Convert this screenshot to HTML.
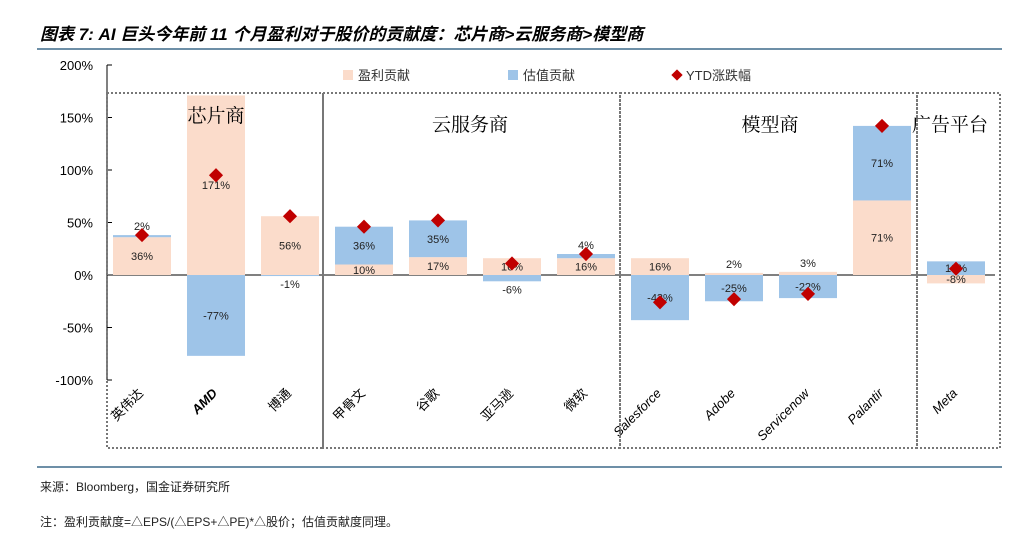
<!DOCTYPE html>
<html><head><meta charset="utf-8"><style>
body{margin:0;background:#fff;}
svg{display:block;font-family:"Liberation Sans","Noto Sans CJK SC",sans-serif;}
</style></head><body>
<svg id="chart" width="1024" height="534" viewBox="0 0 1024 534">
<text x="40" y="40" font-size="17" font-weight="bold" font-style="italic" fill="#000" font-family="'Liberation Sans','Noto Sans CJK SC',sans-serif">图表 7: AI 巨头今年前 11 个月盈利对于股价的贡献度：芯片商&gt;云服务商&gt;模型商</text>
<line x1="37" y1="49" x2="1002" y2="49" stroke="#3d6a8a" stroke-width="1.5"/>
<line x1="37" y1="467" x2="1002" y2="467" stroke="#3d6a8a" stroke-width="1.5"/>
<text x="40" y="491" font-size="12" fill="#222">来源：Bloomberg，国金证券研究所</text>
<text x="40" y="526" font-size="12" fill="#222">注：盈利贡献度=△EPS/(△EPS+△PE)*△股价；估值贡献度同理。</text>
<g id="plot"></g>
</svg>
<script>
const categories=["英伟达","AMD","博通","甲骨文","谷歌","亚马逊","微软","Salesforce","Adobe","Servicenow","Palantir","Meta"];
const profit=[36,171,56,10,17,16,16,16,2,3,71,-8];
const valuation=[2,-77,-1,36,35,-6,4,-43,-25,-22,71,13];
const ytd=[38,95,56,46,52,11,20,-26,-23,-18,142,6];
const yTicks=[200,150,100,50,0,-50,-100];
const groups=["芯片商","云服务商","模型商","广告平台"];
const NS="http://www.w3.org/2000/svg";
const g=document.getElementById('plot');
const x0=107,slot=74,bw=58;
const y=v=>275-v*1.05;
const cx=i=>x0+slot*i+35;
function mk(t,a,p){const e=document.createElementNS(NS,t);for(const k in a)e.setAttribute(k,a[k]);(p||g).appendChild(e);return e;}
let ax=mk('line',{x1:x0,y1:y(200),x2:x0,y2:y(-100),stroke:'#000','stroke-width':1});


yTicks.forEach(v=>{
 let tl=mk('line',{x1:x0,y1:y(v),x2:x0+5,y2:y(v),stroke:'#000'});
 
 
 let t=mk('text',{x:93,y:y(v)+5,'text-anchor':'end','font-size':13,fill:'#000'});
 t.textContent=v+'%';
 
 
});
let zl=mk('line',{x1:x0,y1:y(0),x2:995,y2:y(0),stroke:'#000'});


function seg(i,base,v,color,name){
 const a=y(base),b=y(base+v);
 const r=mk('rect',{x:cx(i)-bw/2,y:Math.min(a,b),width:bw,height:Math.abs(a-b),fill:color});
 
 
 return (a+b)/2;
}
categories.forEach((c,i)=>{
 const pb=0; const vb=(profit[i]>=0&&valuation[i]>=0)?profit[i]:((profit[i]<0&&valuation[i]<0)?profit[i]:0);
 const pm=seg(i,pb,profit[i],'#fbdccb','bar-profit-'+i);
 const vm=seg(i,vb,valuation[i],'#9ec4e8','bar-valuation-'+i);
 let pl=mk('text',{x:cx(i),y:Math.abs(profit[i])<6?(profit[i]>=0?y(profit[i])-5:y(profit[i])+12):pm+4,'text-anchor':'middle','font-size':11,fill:'#222'});
 pl.textContent=profit[i]+'%';
 
 
 let vend=vb+valuation[i];
 let vl=mk('text',{x:cx(i),y:Math.abs(valuation[i])<7?(valuation[i]>=0?y(vend)-5:y(vend)+12):vm+4,'text-anchor':'middle','font-size':11,fill:'#222'});
 vl.textContent=valuation[i]+'%';
 
 
 const d=mk('rect',{x:cx(i)-5,y:y(ytd[i])-5,width:10,height:10,fill:'#c00000',transform:`rotate(45 ${cx(i)} ${y(ytd[i])})`});
 
 
 const lx=cx(i)+2,ly=394;
 const t=mk('text',{x:lx,y:ly,'text-anchor':'end','font-size':13,fill:'#000',transform:`rotate(-45 ${lx} ${ly})`,'font-weight':c==='AMD'?'bold':'normal','font-style':/[A-Za-z]/.test(c)?'italic':'normal'});
 t.textContent=c;
 
 
});
const bounds=[[107,323],[323,620],[620,917],[917,1000]];
const glab=[[216,122],[470,131],[770,131],[950,131]];
bounds.forEach((b,k)=>{
 const r=mk('rect',{x:b[0],y:93,width:b[1]-b[0],height:355,fill:'none',stroke:'#777','stroke-width':2,'stroke-dasharray':'2 2'});
 
 
 const t=mk('text',{x:glab[k][0],y:glab[k][1],'text-anchor':'middle','font-size':19,fill:'#000','font-family':"'Liberation Serif','Noto Serif CJK SC',serif"});
 t.textContent=groups[k];
 
 
});
const lg=[['盈利贡献','#fbdccb',343],['估值贡献','#9ec4e8',508]];
lg.forEach(l=>{
 const r=mk('rect',{x:l[2],y:70,width:10,height:10,fill:l[1]});
 
 
 const t=mk('text',{x:l[2]+15,y:80,'font-size':13,fill:'#333'});
 t.textContent=l[0];
 
 
});
const ld=mk('rect',{x:673,y:71,width:8,height:8,fill:'#c00000',transform:'rotate(45 677 75)'});


const lt=mk('text',{x:686,y:80,'font-size':13,fill:'#333'});
lt.textContent='YTD涨跌幅';


</script>
</body></html>
